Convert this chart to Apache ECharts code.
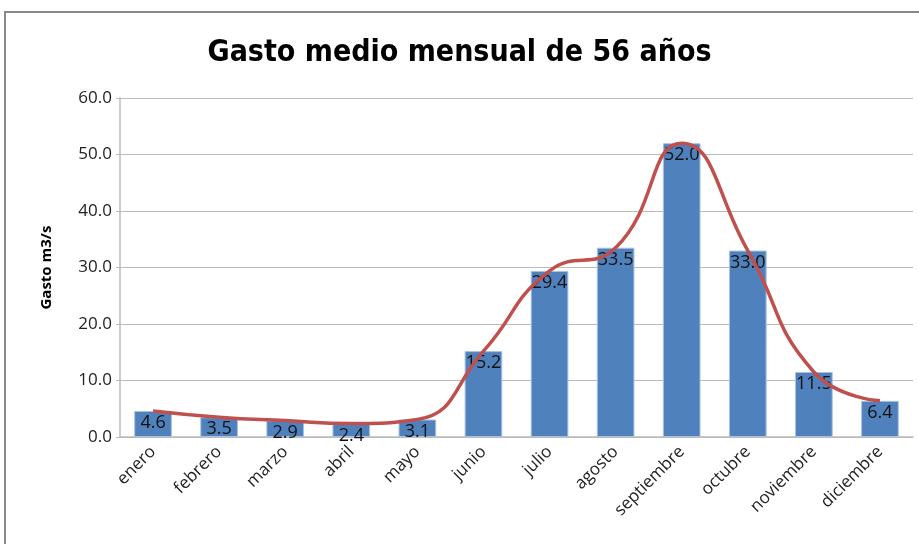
<!DOCTYPE html>
<html>
<head>
<meta charset="utf-8">
<script src="https://cdn.jsdelivr.net/npm/echarts@6/dist/echarts.min.js"></script>
<style>
  html, body { margin: 0; padding: 0; background: #fff; }
  #main { width: 919px; height: 544px; }
</style>
</head>
<body>
<div id="main"></div>
<script>
// datos del gráfico
var meses = ['enero', 'febrero', 'marzo', 'abril', 'mayo', 'junio', 'julio', 'agosto', 'septiembre', 'octubre', 'noviembre', 'diciembre'];
var gasto = [4.6, 3.5, 2.9, 2.4, 3.1, 15.2, 29.4, 33.5, 52.0, 33.0, 11.5, 6.4];
var titulo = 'Gasto medio mensual de 56 años';
var ejeY = 'Gasto m3/s';

var myChart = echarts.init(document.getElementById('main'));
myChart.setOption({
  animation: false,
  title: {
    text: titulo,
    left: 'center',
    top: 33,
    textStyle: { fontFamily: 'DejaVu Sans Condensed', fontWeight: 'bold', fontSize: 30, color: '#000' }
  },
  graphic: [{
    type: 'rect',
    shape: { x: 5, y: 12, width: 930, height: 560 },
    style: { fill: 'none', stroke: '#888', lineWidth: 2 }
  }],
  grid: { left: 120, right: 6, top: 98, bottom: 107 },
  xAxis: {
    type: 'category',
    data: meses,
    axisLine: { lineStyle: { color: '#bbb', width: 1.5 } },
    axisTick: { show: false },
    axisLabel: {
      interval: 0, rotate: 45, margin: 12,
      fontFamily: 'Open Sans', fontSize: 17, color: '#222'
    }
  },
  yAxis: {
    type: 'value',
    min: 0, max: 60, interval: 10,
    name: ejeY,
    nameLocation: 'middle',
    nameGap: 66,
    nameTextStyle: { fontFamily: 'Open Sans', fontWeight: 'bold', fontSize: 15, color: '#000' },
    axisLine: { show: true, lineStyle: { color: '#bbb', width: 1.5 } },
    axisTick: { show: true, length: 4, lineStyle: { color: '#bbb' } },
    splitLine: { lineStyle: { color: '#bbb', width: 1.2 } },
    axisLabel: {
      margin: 8,
      fontFamily: 'Open Sans', fontSize: 17, color: '#222',
      formatter: function (v) { return v.toFixed(1); }
    }
  },
  series: [
    {
      type: 'bar',
      data: gasto,
      barWidth: '57%',
      itemStyle: { color: '#4F81BD', borderColor: '#a9c2e0', borderWidth: 1 },
      label: {
        show: true, position: 'insideTop', distance: 3,
        fontFamily: 'Open Sans', fontSize: 18, color: '#111',
        formatter: function (p) { return p.value.toFixed(1); }
      }
    },
    {
      type: 'line',
      data: gasto,
      smooth: 0.5,
      symbol: 'none',
      lineStyle: { color: '#C0504D', width: 3.5 },
      z: 3
    }
  ]
});
</script>
</body>
</html>
